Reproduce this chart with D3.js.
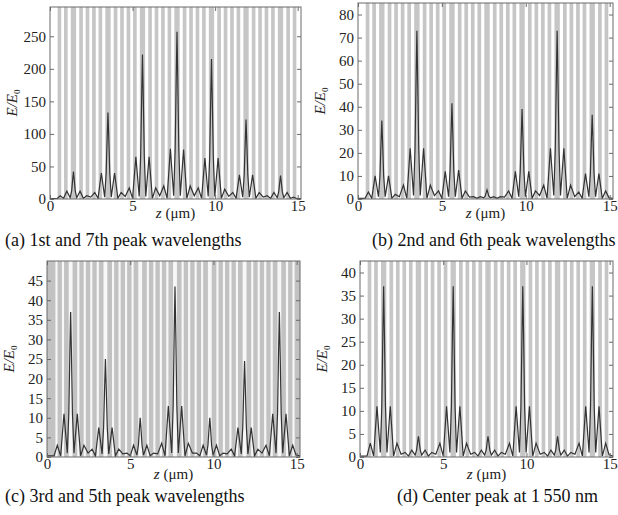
<!DOCTYPE html>
<html><head><meta charset="utf-8">
<script src="https://cdn.jsdelivr.net/npm/d3@7"></script>
<style>body{margin:0;background:#fff}svg{display:block}</style>
</head><body>
<svg id="chart" width="618" height="515"></svg>
<script>
// ---------- data ----------
// multilayer structure: layer type and thickness (µm), from z = 0
const layerType = ["A","H","L","H","L",
  "D","L","H","L","H","L","H","L","H","L",
  "D","L","H","L","H","L","H","L","H","L",
  "D","L","H","L","H","L","H","L","H","L",
  "D","L","H","L","H","L","H","L","H","L",
  "D","L","H","L","H","L","H","L","H","L",
  "D","L","H","L","H","L","H","L","H","L",
  "D","L","H","L","H","A"];
const layerThick = [0.46,0.22,0.17,0.22,0.19,
  0.32,0.19,0.22,0.17,0.22,0.17,0.22,0.17,0.22,0.19,
  0.32,0.19,0.22,0.17,0.22,0.17,0.22,0.17,0.22,0.19,
  0.32,0.19,0.22,0.17,0.22,0.17,0.22,0.17,0.22,0.19,
  0.32,0.19,0.22,0.17,0.22,0.17,0.22,0.17,0.22,0.19,
  0.32,0.19,0.22,0.17,0.22,0.17,0.22,0.17,0.22,0.19,
  0.32,0.19,0.22,0.17,0.22,0.17,0.22,0.17,0.22,0.19,
  0.32,0.19,0.22,0.17,0.22,0.5];

// sample positions z (µm) shared by the four field profiles
const zPts = [0,0.42,
  0.62,0.82,1.02,1.22,1.31,1.37,1.42,1.47,1.53,1.62,1.82,2.02,2.22,2.465,
  2.71,2.91,3.11,3.31,3.40,3.46,3.51,3.56,3.62,3.71,3.91,4.11,4.31,4.555,
  4.80,5.00,5.20,5.40,5.49,5.55,5.60,5.65,5.71,5.80,6.00,6.20,6.40,6.645,
  6.89,7.09,7.29,7.49,7.58,7.64,7.69,7.74,7.80,7.89,8.09,8.29,8.49,8.735,
  8.98,9.18,9.38,9.58,9.67,9.73,9.78,9.83,9.89,9.98,10.18,10.38,10.58,10.825,
  11.07,11.27,11.47,11.67,11.76,11.82,11.87,11.92,11.98,12.07,12.27,12.47,12.67,12.915,
  13.16,13.36,13.56,13.76,13.85,13.91,13.96,14.01,14.07,14.16,14.36,14.56,14.76,14.96,15.2];

// E/E0 for (a) 1st & 7th peak wavelengths
const eA = [0.5,0.5,
  5,1,12,2,12,29,42,29,12,2,12,1,5,3,
  10,1,40,3,40,93,133,93,40,3,40,1,10,4,
  17,1,65,4,66,155,222,155,66,4,65,1,17,5,
  20,1,77,5,77,180,257,180,77,5,76,1,20,5,
  17,1,63,4,64,150,215,150,64,4,63,1,15,4,
  10,1,37,3,37,85,122,85,37,3,37,1,10,3,
  5,1,10,2,11,25,36,25,11,2,10,1,3,0.5,0.5];
// (b) 2nd & 6th
const eB = [0.3,0.3,
  3,0.3,10,1,10,24,34,24,10,1,10,0.3,2,1,
  6,0.3,22,1.5,22,51,73,51,22,1.5,22,0.3,6,1.5,
  3.5,0.3,12,1,12.5,29,41.5,29,12.5,1,12.5,0.3,3.5,0.8,
  1,0.3,1,0.5,1.2,2.8,4,2.8,1.2,0.5,1,0.3,1,0.8,
  3.5,0.3,12,1,12,27,39,27,12,1,12,0.3,3.5,1.5,
  6,0.3,22,1.5,22,51,73,51,22,1.5,22,0.3,6,1,
  3,0.3,11,1,11,25.5,36.5,25.5,11,1,11,0.3,3.5,0.5,0.3];
// (c) 3rd & 5th
const eC = [0.3,0.3,
  3,0.3,11,1,11,26,37,26,11,1,11,0.3,3,1,
  2,0.3,7.5,0.8,7.5,17.5,25,17.5,7.5,0.8,7.5,0.3,2,0.8,
  1,0.3,3,0.5,3,7,10,7,3,0.5,3,0.3,1,0.8,
  3.5,0.3,13,1,13,31,43.5,31,13,1,13,0.3,3.5,1,
  1,0.3,3,0.5,3,7,10,7,3,0.5,3,0.3,1,0.8,
  2,0.3,7.5,0.8,7.5,17,24.5,17,7.5,0.8,7.5,0.3,2,1,
  3,0.3,11,1,11,26,37,26,11,1,11,0.3,3,0.5,0.3];
// (d) centre peak at 1550 nm
const eD = [0.2,0.2,
  3,0.2,11,1,11,26,37,26,11,1,11,0.2,3,0.6,
  1,0.2,1.5,0.4,1.5,3.2,4.5,3.2,1.5,0.4,1.5,0.2,1,0.6,
  3,0.2,11,1,11,26,37,26,11,1,11,0.2,3,0.6,
  1,0.2,1.5,0.4,1.5,3.2,4.5,3.2,1.5,0.4,1.5,0.2,1,0.6,
  3,0.2,11,1,11,26,37,26,11,1,11,0.2,3,0.6,
  1,0.2,1.5,0.4,1.5,3.2,4.5,3.2,1.5,0.4,1.5,0.2,1,0.6,
  3,0.2,11,1,11,26,37,26,11,1,11,0.2,3,0.5,0.2];

const xTicks = [0,5,10,15];
const yTicksA = [0,50,100,150,200,250];
const yTicksB = [0,10,20,30,40,50,60,70,80];
const yTicksC = [0,5,10,15,20,25,30,35,40,45];
const yTicksD = [0,5,10,15,20,25,30,35,40];
const captions = ["(a) 1st and 7th peak wavelengths","(b) 2nd and 6th peak wavelengths",
                  "(c) 3rd and 5th peak wavelengths","(d) Center peak at 1\u2009550 nm"];

// ---------- layout ----------
const panels = [
  {e:eA, yMax:295, ticks:yTicksA, L:50, R:301, T:7, B:199, invert:false, cap:captions[0], capX:5, capY:246, titleDy:19},
  {e:eB, yMax:85, ticks:yTicksB, L:358, R:613, T:3, B:199, invert:false, cap:captions[1], capX:372, capY:246, titleDy:19},
  {e:eC, yMax:50, ticks:yTicksC, L:47, R:300, T:261, B:457, invert:true, cap:captions[2], capX:5, capY:502, titleDy:22},
  {e:eD, yMax:42.5, ticks:yTicksD, L:360, R:613, T:261, B:457, invert:false, cap:captions[3], capX:397, capY:502, titleDy:22}
];
const xMax = 15.2;
const GRAY = "#c6c6c6";
const FONT = "'Liberation Serif','Times New Roman',serif";

const svg = d3.select("#chart");

// cumulative layer bounds
let acc = 0;
const layers = layerType.map((t,i)=>{const s=acc; acc+=layerThick[i]; return {t, s, e:acc};});

panels.forEach((p,pi)=>{
  const x = d3.scaleLinear().domain([0,xMax]).range([p.L,p.R]);
  const y = d3.scaleLinear().domain([0,p.yMax]).range([p.B,p.T]);
  const g = svg.append("g");
  const cid = "clip"+pi;
  g.append("clipPath").attr("id",cid).append("rect")
    .attr("x",p.L).attr("y",p.T).attr("width",p.R-p.L).attr("height",p.B-p.T);
  const plot = g.append("g").attr("clip-path",`url(#${cid})`);
  plot.append("rect").attr("x",p.L).attr("y",p.T).attr("width",p.R-p.L).attr("height",p.B-p.T)
    .attr("fill", p.invert ? "#c2c2c2" : "#fff");
  const inset = p.invert ? 0.045 : 0;
  plot.selectAll("rect.layer").data(layers.filter(l=>l.t==="H"||l.t==="D")).join("rect")
    .attr("class","layer")
    .attr("x",d=>x(d.s+inset)).attr("width",d=>x(d.e-inset)-x(d.s+inset))
    .attr("y",p.T).attr("height",p.B-p.T)
    .attr("fill", p.invert ? "#f7f7f7" : GRAY);
  const line = d3.line().x((d,i)=>x(zPts[i])).y(d=>y(d));
  plot.append("path").datum(p.e).attr("d",line)
    .attr("fill","none").attr("stroke","#333").attr("stroke-width",1.2)
    .attr("stroke-linejoin","miter");

  // frame and inward ticks on all sides
  const axCol = "#6a6a6a";
  g.append("g").attr("transform",`translate(0,${p.B})`)
    .call(d3.axisBottom(x).tickValues(xTicks).tickSize(-4).tickFormat(d3.format("d")).tickPadding(1))
    .call(a=>{a.select(".domain").remove(); a.selectAll("line").attr("stroke",axCol);
      a.selectAll("text").attr("font-family",FONT).attr("font-size",15).attr("fill","#222").attr("dy","0.72em");});
  g.append("g").attr("transform",`translate(0,${p.T})`)
    .call(d3.axisTop(x).tickValues(xTicks).tickSize(-4).tickFormat(""))
    .call(a=>{a.select(".domain").remove(); a.selectAll("line").attr("stroke",axCol);});
  g.append("g").attr("transform",`translate(${p.L},0)`)
    .call(d3.axisLeft(y).tickValues(p.ticks).tickSize(-4).tickPadding(4))
    .call(a=>{a.select(".domain").remove(); a.selectAll("line").attr("stroke",axCol);
      a.selectAll("text").attr("font-family",FONT).attr("font-size",15).attr("fill","#222");});
  g.append("g").attr("transform",`translate(${p.R},0)`)
    .call(d3.axisRight(y).tickValues(p.ticks).tickSize(-4).tickFormat(""))
    .call(a=>{a.select(".domain").remove(); a.selectAll("line").attr("stroke",axCol);});
  g.append("rect").attr("x",p.L).attr("y",p.T).attr("width",p.R-p.L).attr("height",p.B-p.T)
    .attr("fill","none").attr("stroke",axCol).attr("stroke-width",1);

  // axis titles
  const xt = g.append("text").attr("x",(p.L+p.R)/2).attr("y",p.B+p.titleDy)
    .attr("text-anchor","middle").attr("font-family",FONT).attr("font-size",15).attr("fill","#222");
  xt.append("tspan").attr("font-style","italic").text("z");
  xt.append("tspan").text(" (\u03bcm)");
  const yt = g.append("text")
    .attr("transform",`translate(${p.L-33},${(p.T+p.B)/2}) rotate(-90)`)
    .attr("text-anchor","middle").attr("font-family",FONT).attr("font-size",15).attr("fill","#222")
    .attr("font-style","italic");
  yt.append("tspan").text("E/E");
  yt.append("tspan").attr("font-size",9).attr("dy",3).attr("font-style","normal").text("0");

  // caption
  svg.append("text").attr("x",p.capX).attr("y",p.capY)
    .attr("font-family",FONT).attr("font-size",18).attr("fill","#111").text(p.cap);
});
</script>
</body></html>
